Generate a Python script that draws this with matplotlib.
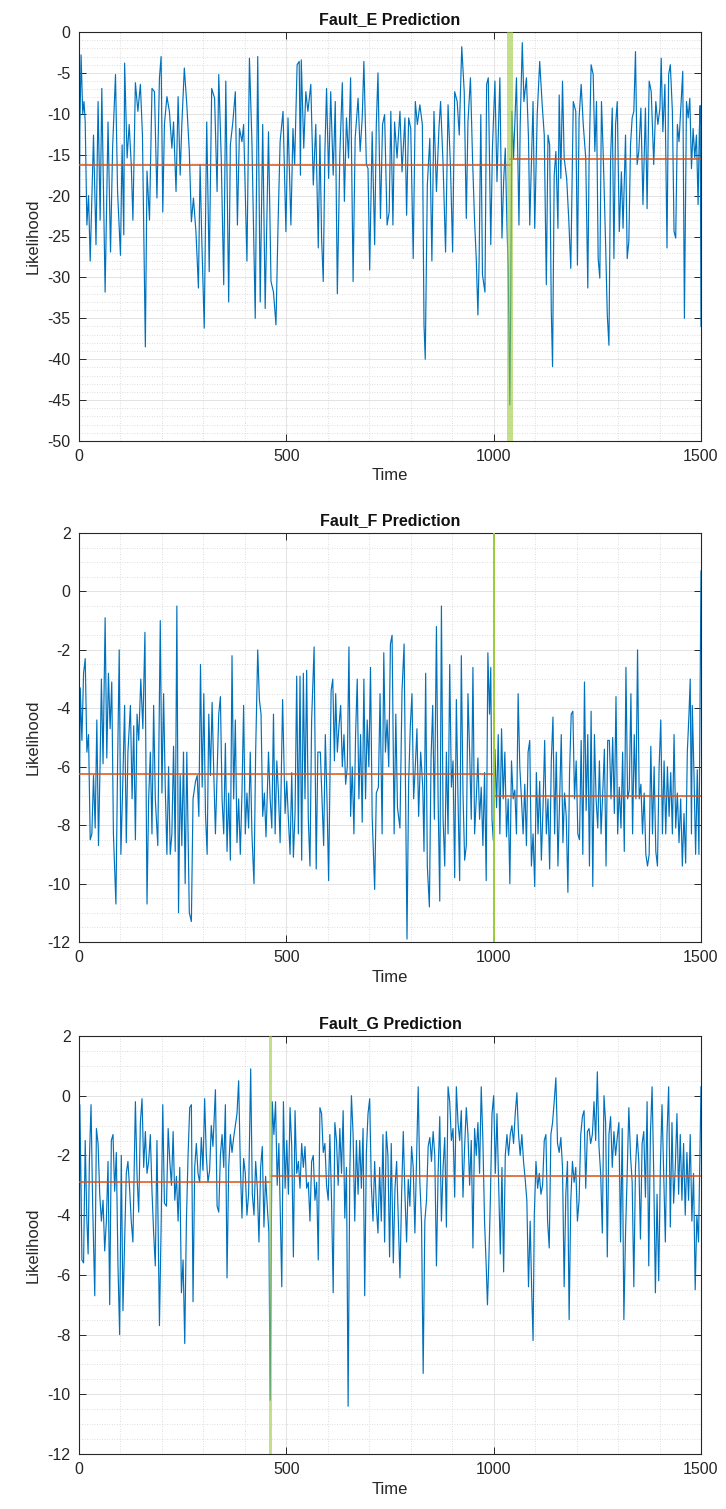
import matplotlib
matplotlib.use("Agg")
import matplotlib.pyplot as plt
from matplotlib.ticker import MultipleLocator

plt.rcParams['font.family'] = ['Liberation Sans', 'DejaVu Sans']
plt.rcParams['axes.unicode_minus'] = False

# ---------------- data ----------------
titles = ["Fault_E Prediction", "Fault_F Prediction", "Fault_G Prediction"]
x_label = "Time"
y_label = "Likelihood"

t_e = [0, 2, 5, 9, 12, 15, 19, 23, 27, 35,
       41, 46, 51, 55, 63, 70, 76, 81, 88, 93,
       100, 104, 108, 110, 116, 121, 126, 130, 136, 142,
       148, 153, 160, 164, 170, 176, 182, 188, 194, 198,
       202, 206, 212, 218, 224, 228, 234, 239, 244, 248,
       254, 260, 266, 271, 276, 282, 288, 292, 296, 302,
       308, 314, 320, 327, 333, 337, 343, 349, 354, 361,
       365, 371, 377, 382, 387, 393, 397, 405, 411, 417,
       425, 431, 437, 443, 449, 457, 463, 469, 475, 480,
       485, 492, 499, 504, 511, 516, 520, 526, 531, 534,
       536, 542, 547, 552, 559, 565, 571, 577, 581, 585,
       589, 593, 597, 602, 607, 613, 618, 623, 629, 635,
       640, 645, 650, 655, 661, 666, 673, 678, 683, 687,
       693, 697, 701, 707, 713, 717, 721, 727, 732, 737,
       743, 748, 752, 757, 761, 767, 774, 779, 786, 790,
       795, 800, 806, 811, 816, 822, 828, 832, 835, 840,
       846, 851, 856, 862, 868, 872, 878, 884, 890, 896,
       901, 906, 912, 917, 923, 929, 934, 938, 944, 949,
       954, 958, 962, 965, 969, 973, 979, 983, 987, 993,
       997, 1003, 1008, 1015, 1020, 1024, 1028, 1032, 1035, 1039,
       1041, 1044, 1048, 1055, 1061, 1064, 1069, 1073, 1079, 1084,
       1087, 1091, 1095, 1099, 1105, 1111, 1117, 1122, 1127, 1131,
       1135, 1139, 1142, 1146, 1150, 1155, 1158, 1162, 1166, 1170,
       1176, 1181, 1186, 1192, 1198, 1202, 1206, 1211, 1216, 1222,
       1227, 1230, 1235, 1240, 1244, 1248, 1252, 1256, 1260, 1264,
       1270, 1274, 1278, 1282, 1286, 1290, 1294, 1298, 1303, 1308,
       1312, 1318, 1322, 1326, 1330, 1334, 1338, 1342, 1346, 1350,
       1355, 1360, 1366, 1370, 1375, 1380, 1386, 1391, 1396, 1401,
       1404, 1408, 1413, 1418, 1422, 1426, 1431, 1435, 1439, 1443,
       1447, 1452, 1456, 1460, 1465, 1469, 1473, 1477, 1481, 1485,
       1489, 1493, 1496, 1498, 1500]
v_e = [-41, -12, -2.8, -10, -8.5, -11, -23.6, -20, -28, -12.6,
       -26, -8.5, -23, -6.9, -31.8, -11, -26.9, -14.2, -5.2, -19.5,
       -27.3, -13.8, -24.8, -3.8, -15.4, -11.3, -16.2, -23, -6.2, -9.7,
       -6.4, -12.6, -38.5, -17, -23, -6.9, -7.3, -20.3, -5.6, -3,
       -22, -11.3, -7.9, -9.7, -14.2, -11, -19.5, -7.9, -17.5, -11.3,
       -4.4, -8.9, -14.6, -23.2, -20.3, -24.4, -31.3, -16.2, -25.2, -36.2,
       -11, -29.3, -6.9, -8.1, -19.5, -5.2, -15.4, -30.9, -6, -33,
       -13.8, -11, -7.3, -23.6, -11.8, -13.4, -11.3, -28, -3.2, -13.4,
       -35, -3, -33, -11.3, -33.8, -12.2, -30.5, -31.8, -35.8, -23.6,
       -13.4, -9.7, -24.4, -10.5, -23.6, -11.8, -16.2, -4, -3.6, -17.5,
       -3.4, -14.2, -7.3, -9.7, -6.4, -18.7, -11.3, -26.4, -12.6, -25.2,
       -30.5, -14.6, -6.9, -17.9, -7.3, -17.5, -8.5, -32, -15, -6.2,
       -20.7, -10.5, -15.4, -5.6, -30.5, -13, -8.1, -14.6, -10.5, -3.6,
       -16.2, -16.7, -29.1, -12.2, -26, -11.3, -5, -22.8, -11.3, -10.1,
       -23.6, -22, -9.7, -23.6, -11, -15.4, -9.7, -17.1, -10.5, -22.4,
       -10.5, -11.8, -27.7, -8.5, -11.3, -8.9, -11.3, -35.8, -40, -18.7,
       -13, -28, -9.7, -19.5, -11.8, -8.5, -16.2, -26.9, -8.9, -16.7,
       -26.9, -7.3, -8.5, -12.6, -1.8, -7.3, -22.8, -11, -5.6, -15.4,
       -23.2, -27.7, -34.6, -27.7, -10.1, -29.7, -31.8, -6.4, -5.6, -26,
       -14.2, -6, -18.3, -5.6, -25.2, -18.3, -14.2, -23.6, -28.9, -45.6,
       -33.8, -9.7, -15.4, -5.6, -23.6, -11.3, -1.3, -8.5, -5.6, -13,
       -23.6, -16.2, -8.5, -24, -10.1, -3.6, -8.9, -12.6, -30.9, -12.6,
       -13.8, -34.2, -40.9, -17.5, -14.6, -24, -7.7, -17.9, -6, -15.4,
       -17.9, -22.8, -28.9, -8.5, -9.7, -28.5, -10.5, -6.4, -11.3, -15.4,
       -31.3, -16.2, -4, -5.2, -14.6, -8.5, -27.7, -30.1, -8.5, -14.6,
       -26, -34.6, -38.3, -15.4, -9.3, -27.7, -11.3, -8.5, -24.4, -17.1,
       -24, -12.6, -27.7, -25.6, -13.8, -10.5, -9.7, -2.4, -16.2, -14.6,
       -9.3, -21.1, -9.3, -21.6, -6, -7.3, -16.2, -8.5, -11.3, -9.3,
       -3.2, -12.2, -6.4, -26.4, -5.2, -4, -9.7, -24.4, -25.2, -11.3,
       -13.4, -8.5, -4.8, -35, -8.5, -10.5, -8.1, -16.7, -11.8, -15.4,
       -12.6, -21.1, -12, -9, -36]

t_f = [0, 3, 7, 11, 15, 19, 23, 27, 31, 35,
       39, 43, 47, 51, 54, 58, 63, 67, 71, 75,
       79, 83, 89, 93, 97, 101, 105, 110, 114, 118,
       124, 128, 132, 136, 140, 144, 149, 154, 159, 164,
       168, 172, 176, 180, 184, 190, 196, 200, 204, 208,
       212, 216, 220, 224, 228, 232, 236, 240, 244, 248,
       252, 256, 260, 266, 271, 275, 281, 285, 289, 293,
       297, 301, 305, 309, 313, 317, 321, 325, 329, 333,
       337, 341, 345, 349, 353, 357, 361, 365, 369, 373,
       377, 381, 385, 389, 393, 397, 401, 405, 409, 413,
       417, 422, 426, 431, 435, 439, 443, 447, 451, 457,
       461, 465, 469, 473, 477, 481, 485, 491, 497, 501,
       505, 509, 513, 517, 521, 525, 529, 533, 537, 541,
       545, 549, 553, 557, 561, 567, 572, 576, 582, 586,
       590, 594, 598, 602, 608, 612, 616, 619, 623, 627,
       631, 635, 639, 643, 647, 651, 655, 659, 663, 667,
       671, 675, 679, 683, 687, 691, 695, 699, 703, 707,
       713, 717, 722, 726, 731, 735, 739, 743, 747, 751,
       755, 760, 764, 768, 774, 779, 784, 787, 791, 795,
       799, 803, 807, 811, 815, 819, 824, 829, 832, 836,
       840, 845, 849, 853, 857, 862, 866, 870, 874, 878,
       882, 886, 890, 894, 898, 902, 906, 910, 914, 918,
       922, 926, 930, 934, 938, 942, 946, 950, 954, 958,
       962, 966, 970, 974, 978, 982, 986, 990, 993, 996,
       999, 1003, 1007, 1011, 1015, 1019, 1023, 1027, 1031, 1035,
       1039, 1043, 1047, 1051, 1055, 1059, 1063, 1067, 1071, 1075,
       1079, 1083, 1087, 1091, 1095, 1099, 1103, 1107, 1111, 1115,
       1119, 1123, 1127, 1131, 1135, 1139, 1143, 1147, 1151, 1155,
       1159, 1163, 1167, 1171, 1175, 1179, 1183, 1187, 1191, 1195,
       1199, 1203, 1207, 1211, 1215, 1219, 1223, 1227, 1231, 1235,
       1239, 1243, 1247, 1251, 1255, 1259, 1263, 1267, 1271, 1275,
       1279, 1283, 1287, 1291, 1295, 1299, 1303, 1307, 1311, 1315,
       1319, 1323, 1327, 1331, 1335, 1339, 1343, 1347, 1351, 1355,
       1359, 1363, 1367, 1371, 1375, 1379, 1383, 1387, 1391, 1395,
       1399, 1403, 1407, 1411, 1415, 1419, 1423, 1427, 1431, 1435,
       1439, 1443, 1447, 1451, 1455, 1459, 1463, 1467, 1471, 1474,
       1477, 1479, 1483, 1487, 1491, 1495, 1500]
v_f = [-10, -3.3, -5.1, -2.8, -2.3, -5.5, -4.9, -8.5, -8.3, -6.3,
       -8.1, -4.4, -8.7, -5.8, -3, -5.9, -0.9, -5.7, -2.8, -4.7,
       -3.1, -8.3, -10.7, -6, -2, -9, -6.9, -3.9, -8.6, -5.5,
       -3.9, -7.1, -4.6, -8.5, -4.2, -5.1, -3, -4.7, -1.4, -10.7,
       -7.1, -5.5, -8.3, -3.9, -7.1, -8.7, -1, -6.9, -3.5, -6.7,
       -9, -6, -9, -8.3, -5.3, -8.9, -0.5, -11, -6.3, -8.7,
       -5.5, -10, -5.5, -11, -11.3, -7.1, -6.5, -6.3, -7.7, -2.5,
       -6.7, -3.5, -7.6, -9, -4.2, -6.3, -3.8, -6.2, -8.3, -6.2,
       -4.2, -3.6, -7.1, -8.3, -5.2, -8.9, -6.9, -9.2, -2.2, -7.1,
       -4.4, -8.6, -7.1, -9, -6.9, -3.9, -8.3, -6.9, -8.1, -5.5,
       -8.3, -10, -5.5, -2, -3.7, -4.2, -7.7, -6.9, -8.4, -5.5,
       -7.1, -8.1, -4.2, -8.3, -5.8, -6.9, -8.6, -3.7, -7.6, -6.5,
       -7.8, -9, -6.2, -9.1, -7.6, -2.9, -8.3, -2.9, -9.2, -2.8,
       -7.1, -2.7, -7.8, -9.4, -4.4, -1.9, -9.5, -5.5, -5.5, -7.1,
       -8.7, -4.9, -7.1, -9.9, -3.4, -3, -5.8, -3.5, -5.5, -4.6,
       -3.9, -6, -4.9, -6.6, -6, -1.9, -7.7, -6, -8.3, -4.9,
       -3, -7.1, -4.9, -7.9, -3, -7.1, -4.4, -6, -2.6, -7.7,
       -10.2, -6.9, -6.7, -3.5, -8.3, -2.1, -5.5, -4.4, -6, -1.8,
       -1.5, -8.3, -4.2, -7.4, -8.1, -3.4, -1.8, -6, -11.9, -6.5,
       -4.6, -3.5, -7.1, -6, -4.7, -7.7, -5.5, -6.7, -8.9, -2.8,
       -9.4, -10.8, -5.7, -3.9, -7.8, -1.2, -7.1, -10.6, -0.5, -7.8,
       -9.4, -5.5, -8.3, -2.5, -6.7, -5.8, -9.8, -3.7, -7.1, -9.9,
       -2.2, -6.9, -9.2, -8.7, -3.5, -5.5, -7.8, -2.6, -8.3, -7.1,
       -5.7, -7.8, -6.7, -8.7, -6.2, -9.9, -2.1, -4.2, -2.6, -7.8,
       -8.5, -5.4, -7.4, -4.9, -8.3, -4.7, -7.1, -5.5, -8.4, -7.1,
       -10, -5.8, -7.1, -6.8, -8.3, -3.5, -6, -7.1, -8.3, -6.6,
       -8.7, -5.5, -5.1, -9.4, -8.3, -10.1, -6.2, -8.3, -6.5, -9.2,
       -7.4, -5.1, -8.3, -7.1, -9.5, -5.8, -4.3, -8.3, -5.5, -9.4,
       -7.1, -4.9, -8.6, -6.9, -7.7, -10.3, -6.2, -4.2, -4.1, -7.1,
       -5.8, -8.3, -8.5, -5.1, -9, -3.1, -7.5, -4.9, -9.4, -4.1,
       -10.1, -4.9, -7.1, -8.1, -5.8, -8.3, -6.9, -5.4, -9.4, -5.1,
       -5.1, -7.1, -5, -7.6, -3.6, -8.3, -6.7, -8.1, -5.5, -8.9,
       -2.6, -7.1, -6.8, -3.5, -8.3, -4.9, -7.1, -2, -7.1, -6.6,
       -8.3, -6.9, -9, -9.4, -9, -5.3, -8.3, -6, -8.9, -9.4,
       -6, -4.4, -8.3, -5.8, -8.3, -6, -7.7, -6.2, -8.3, -4.9,
       -8.1, -6.9, -8.6, -7.1, -9.4, -7.6, -9.3, -5.5, -4.2, -3,
       -8.3, -3.9, -6.2, -9, -6.1, -9, 0.7]

t_g = [0, 2, 5, 7, 11, 15, 19, 22, 25, 29,
       33, 38, 42, 46, 50, 54, 58, 62, 66, 70,
       74, 78, 82, 86, 90, 94, 98, 102, 106, 110,
       114, 118, 122, 126, 130, 136, 140, 144, 148, 152,
       156, 160, 164, 168, 172, 176, 180, 184, 188, 194,
       198, 202, 206, 211, 215, 219, 223, 227, 231, 235,
       239, 243, 247, 251, 255, 259, 263, 267, 271, 275,
       279, 283, 287, 291, 295, 299, 303, 307, 311, 315,
       319, 323, 329, 333, 337, 341, 345, 349, 353, 357,
       361, 365, 369, 373, 377, 381, 385, 389, 393, 397,
       401, 405, 409, 414, 418, 422, 426, 430, 434, 438,
       442, 446, 450, 454, 458, 461, 464, 466, 470, 474,
       478, 482, 486, 489, 493, 497, 501, 505, 509, 513,
       517, 521, 525, 529, 533, 537, 541, 545, 549, 553,
       557, 561, 565, 569, 573, 577, 581, 585, 589, 593,
       597, 601, 605, 609, 613, 617, 621, 625, 629, 633,
       637, 641, 645, 649, 653, 657, 661, 665, 669, 673,
       677, 681, 685, 689, 693, 697, 701, 705, 709, 713,
       717, 721, 725, 729, 733, 737, 741, 745, 749, 753,
       758, 762, 766, 770, 774, 778, 782, 786, 790, 794,
       798, 802, 806, 810, 814, 818, 822, 826, 830, 834,
       838, 842, 846, 850, 854, 858, 862, 866, 870, 874,
       878, 882, 886, 890, 894, 898, 902, 906, 910, 914,
       918, 922, 926, 930, 934, 938, 942, 946, 950, 954,
       958, 962, 966, 970, 974, 978, 982, 985, 988, 992,
       996, 1000, 1004, 1008, 1012, 1016, 1020, 1024, 1028, 1032,
       1036, 1040, 1044, 1048, 1052, 1056, 1060, 1064, 1068, 1072,
       1076, 1080, 1084, 1088, 1092, 1095, 1098, 1102, 1106, 1110,
       1114, 1118, 1122, 1126, 1130, 1134, 1138, 1142, 1146, 1150,
       1154, 1158, 1162, 1166, 1170, 1174, 1178, 1182, 1186, 1190,
       1194, 1198, 1202, 1206, 1210, 1214, 1218, 1222, 1226, 1230,
       1234, 1238, 1242, 1246, 1250, 1254, 1258, 1262, 1266, 1270,
       1274, 1278, 1282, 1286, 1290, 1294, 1298, 1302, 1306, 1310,
       1314, 1318, 1322, 1326, 1330, 1334, 1338, 1342, 1346, 1350,
       1354, 1358, 1362, 1366, 1370, 1374, 1378, 1382, 1386, 1390,
       1394, 1398, 1402, 1406, 1410, 1414, 1418, 1422, 1426, 1430,
       1434, 1438, 1442, 1446, 1450, 1454, 1458, 1462, 1466, 1470,
       1474, 1478, 1482, 1486, 1490, 1494, 1497, 1500]
v_g = [-9.6, -0.3, -3.1, -5.5, -5.6, -1.5, -4.2, -5.3, -2.2, -0.3,
       -3.7, -6.7, -1.1, -1.6, -3.3, -4.2, -3.5, -5.2, -4.2, -2.2,
       -7, -1.5, -1.3, -3.2, -1.9, -5.7, -8, -2, -7.2, -4.9,
       -2.6, -2.2, -3.1, -4.2, -4.9, -0.2, -2.7, -3.9, -0.9, -0.1,
       -2.4, -1.2, -2.6, -2.2, -1.3, -3.2, -4.6, -5.7, -1.5, -7.7,
       -4.4, -0.3, -3.6, -3.7, -1.1, -2.2, -3, -1.2, -3.5, -2.7,
       -4.2, -2.4, -6.6, -5.5, -8.3, -4.2, -2, -0.4, -0.3, -6.9,
       -2.4, -1.6, -2.6, -2.9, -1.4, -2.5, -0.1, -2, -2.9, -2.5,
       -1, -1.7, 0.2, -3.7, -3.9, -2, -1.3, -2.4, -0.3, -6.1,
       -2.4, -1.3, -1.9, -1.4, -1, -0.6, 0.5, -2.3, -4.1, -2.1,
       -2.6, -4, -3.3, 0.9, -3.3, -4, -2.2, -3.1, -4.9, -2.4,
       -1.7, -4.4, -2.7, -3.7, -4.6, -10.2, -4.2, -0.2, -1.3, -0.2,
       -3, -1.6, -4.4, -6.4, -0.2, -3.1, -1.5, -3.3, -0.4, -1.7,
       -5.4, -0.5, -2.6, -2.2, -3.1, -1.6, -2.4, -1.7, -3.1, -2.9,
       -4.2, -2.2, -2, -3.5, -2.9, -5.5, -0.4, -0.6, -1.9, -1.6,
       -3, -3.5, -1.3, -3.5, -6.6, -0.9, -1.5, -3, -1.1, -2.6,
       -0.5, -4.1, -2.4, -10.4, -2.6, 0, -1.3, -4.2, -1.5, -3.3,
       -1.5, -3.1, -1.1, -6.7, -1.9, -0.6, -0.1, -3, -4.2, -2.2,
       -3.7, -4.6, -2.4, -4.2, -1.3, -4.9, -1.2, -2, -5.4, -1.6,
       -5.6, -3.1, -2.2, -4.2, -6.1, -3.3, -1.2, -3.3, -4.9, -2.8,
       -3.7, -1.7, -2.4, -4.6, -2.2, 0.3, -2.9, -4.2, -9.3, -4.2,
       -3.5, -1.7, -1.4, -2.2, -1.2, -2, -5.7, -2.6, -0.7, -4.2,
       -2.4, -1.4, -4.4, 0.3, -0.2, -1.5, -1.1, -3.4, 0.3, -0.9,
       -1.5, -0.5, -3.4, -1.7, -0.4, -1.3, -3, -1.5, -5.1, -1.1,
       -2, -0.9, -2.6, 0.3, -1.5, -4.2, -5.7, -7, -5.7, -3.5,
       -0.6, 0, -2.6, -0.6, -2.9, -5.3, -2.4, -5.9, -2, -1.3,
       -2, -1.3, -1, -1.6, -0.6, 0.1, -1.3, -2, -1.3, -2.2,
       -2.8, -3.5, -6.4, -4.2, -6.7, -8.2, -4, -2.2, -3.1, -2.6,
       -3.3, -3, -1.5, -1.3, -4.2, -5.1, -1.3, -0.9, -0.2, 0.6,
       -1.6, -1.9, -1.4, -2.4, -6.4, -3.3, -2.2, -7.5, -3.5, -2.2,
       -2.9, -2.4, -4.2, -3.5, -1.3, -0.7, -0.5, -3.1, -1.2, -1.1,
       -1.6, -1.3, -0.2, -1.5, 0.8, -1.7, -2.6, -4.6, 0, -0.9,
       -5.4, -1.3, -0.7, -2.4, -1.2, -2, -1.4, -0.9, -4.9, -1.1,
       -7.5, -4.6, -2.6, -0.4, -2, -2.9, -6.4, -2.4, -1.3, -2.2,
       -4.8, -1.6, -1.2, -3.4, -0.2, -5.7, -1.3, 0.3, -2.6, -6.6,
       -3.3, -6.2, -2.4, -0.3, -2.6, -4.9, -1.3, 0.3, -4.4, -0.9,
       -3.6, -2.4, -0.6, -3.3, -1.3, -3.5, -1.6, -4, -1.9, -3.5,
       -1.3, -4.2, -2.6, -6.5, -4, -4.9, -2.2, 0.3]

# change points and segment means (orange lines)
change_points = [1039, 1000, 462]
means_before = [-16.2, -6.25, -2.9]
means_after = [-15.5, -7.0, -2.7]
band_half_widths = [7, 0, 4]

y_limits = [(-50, 0), (-12, 2), (-12, 2)]
y_major = [5, 2, 2]
y_minor = [1, 0.5, 0.5]

series_t = [t_e, t_f, t_g]
series_v = [v_e, v_f, v_g]

# ---------------- figure ----------------
W, H = 726, 1509
fig = plt.figure(figsize=(W / 100, H / 100), dpi=100)

# axes boxes in pixels: (top, bottom)
boxes = [(32, 441), (533, 942), (1036, 1454)]
left_px, right_px = 79, 701

line_blue = '#0072BD'
line_orange = '#D95319'
band_green = '#9DCB3A'
ink = '#262626'

for i in range(3):
    top, bot = boxes[i]
    ax = fig.add_axes([left_px / W, 1 - bot / H, (right_px - left_px) / W, (bot - top) / H])
    t = series_t[i]
    v = series_v[i]
    n = min(len(t), len(v))
    ax.plot(t[:n], v[:n], color=line_blue, lw=0.85, zorder=2)

    cp = change_points[i]
    ax.plot([0, cp], [means_before[i], means_before[i]], color=line_orange, lw=1.1, zorder=3)
    ax.plot([cp, 1500], [means_after[i], means_after[i]], color=line_orange, lw=1.1, zorder=3)

    hw = band_half_widths[i]
    if hw > 0:
        ax.axvspan(cp - hw, cp + hw, color=band_green, alpha=0.6, lw=0, zorder=4)
    else:
        ax.axvline(cp, color=band_green, lw=1.4, zorder=4)

    ax.set_xlim(0, 1500)
    ax.set_ylim(*y_limits[i])
    ax.xaxis.set_major_locator(MultipleLocator(500))
    ax.xaxis.set_minor_locator(MultipleLocator(100))
    ax.yaxis.set_major_locator(MultipleLocator(y_major[i]))
    ax.yaxis.set_minor_locator(MultipleLocator(y_minor[i]))

    ax.grid(True, which='major', color='#dedede', lw=0.6, ls='-', zorder=0)
    ax.grid(True, which='minor', color='#d2d2d2', lw=0.6, ls=(0, (1, 2)), zorder=0)
    ax.set_axisbelow(True)

    ax.tick_params(which='major', direction='in', length=5, width=0.7, top=True, right=True,
                   labelsize=11.5, colors=ink, pad=6)
    ax.tick_params(which='minor', length=0)
    for s in ax.spines.values():
        s.set_color(ink)
        s.set_linewidth(0.8)

    ax.set_title(titles[i], fontsize=11.5, fontweight='bold', color='#111111', pad=6)
    ax.set_xlabel(x_label, fontsize=12, color=ink, labelpad=3)
    ax.set_ylabel(y_label, fontsize=12, color=ink, labelpad=5)

fig.savefig('out.png', dpi=100)
